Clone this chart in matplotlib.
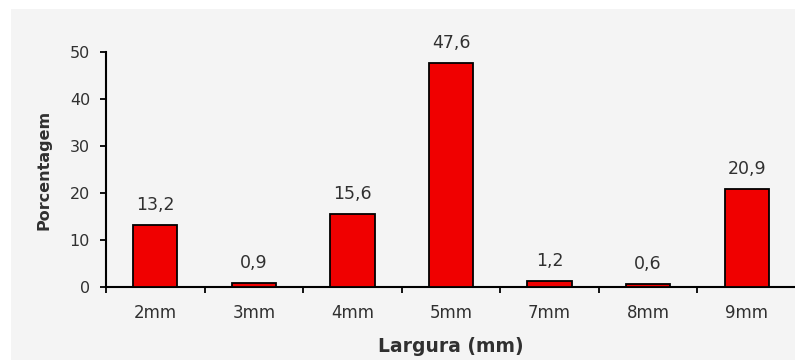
import matplotlib
matplotlib.use('Agg')
import matplotlib.pyplot as plt
from matplotlib.patches import Rectangle

categories = ['2mm', '3mm', '4mm', '5mm', '7mm', '8mm', '9mm']
values = [13.2, 0.9, 15.6, 47.6, 1.2, 0.6, 20.9]
value_labels = ['13,2', '0,9', '15,6', '47,6', '1,2', '0,6', '20,9']

plt.rcParams['font.family'] = ['DejaVu Sans']
text_color = '#303030'

fig = plt.figure(figsize=(7.95, 3.6), dpi=100)
fig.patch.set_facecolor('white')
# gray panel behind the chart
panel = Rectangle((11 / 795, 0), 1, 1 - 9 / 360, transform=fig.transFigure,
                  facecolor='#f4f4f4', edgecolor='none')
panel.set_zorder(-10)
fig.add_artist(panel)

ax = fig.add_axes([106 / 795, 1 - 287 / 360, 690 / 795, 235 / 360])
ax.set_zorder(1)
ax.set_facecolor('none')

x = list(range(len(categories)))
ax.bar(x, values, width=0.45, color='#f00000', edgecolor='black', linewidth=1.3, zorder=3)

for xi, v, lab in zip(x, values, value_labels):
    ax.annotate(lab, (xi, v), xytext=(0, 8), textcoords='offset points',
                ha='center', va='bottom', fontsize=12.5, color=text_color)

ax.set_xlim(-0.5, len(categories) - 0.5)
ax.set_ylim(0, 50)
ax.set_yticks([0, 10, 20, 30, 40, 50])
ax.set_xticks(x)
ax.set_xticklabels(categories)
ax.set_xticks([i - 0.5 for i in range(len(categories) + 1)], minor=True)
ax.tick_params(axis='x', which='major', length=0, pad=12, labelsize=12, labelcolor=text_color)
ax.tick_params(axis='x', which='minor', length=4, width=1.3, direction='out')
ax.tick_params(axis='y', length=4.5, width=1.3, pad=7, labelsize=11.5, labelcolor=text_color)

for s in ['top', 'right']:
    ax.spines[s].set_visible(False)
for s in ['left', 'bottom']:
    ax.spines[s].set_linewidth(1.5)

ax.set_ylabel('Porcentagem', fontsize=11.5, fontweight='bold', color=text_color)
ax.yaxis.set_label_coords((52 - 106) / 690, 0.5)
ax.set_xlabel('Largura (mm)', fontsize=13.5, fontweight='bold', color=text_color)
ax.xaxis.set_label_coords(0.5, (287 - 337) / 235)

fig.savefig('out.png', dpi=100)
